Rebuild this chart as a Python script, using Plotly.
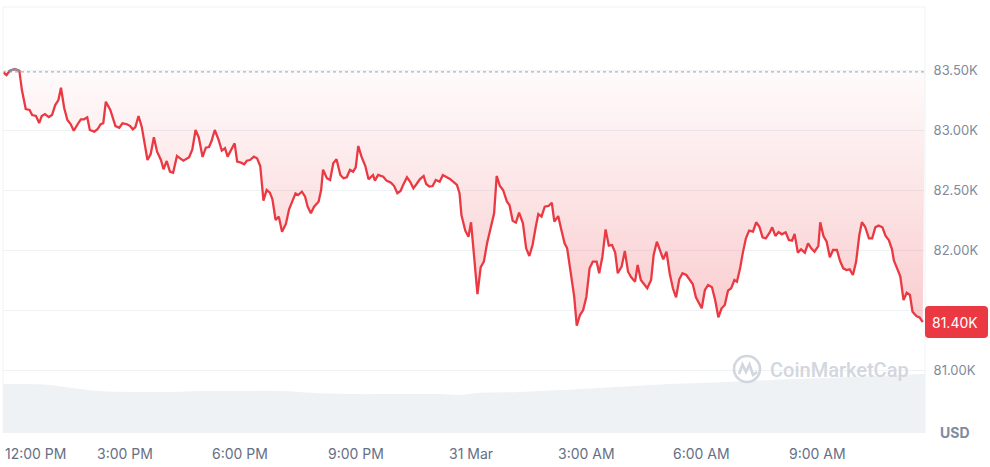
import pandas as pd
import plotly.graph_objects as go

# ---------------- data ----------------
START = pd.Timestamp("2025-03-30 12:00")

minutes = [-10, -5, 0, 8, 15, 19, 25, 31, 35, 41, 46, 50, 55, 61, 66, 71, 76, 80, 85, 90,
           95, 100, 106, 111, 116, 121, 125, 132, 137, 142, 146, 150, 157, 165, 171, 176, 183, 188, 192, 196,
           201, 206, 215, 220, 225, 230, 236, 240, 245, 250, 255, 261, 266, 271,
           280, 285, 290, 295, 301, 306, 311, 315, 320, 326, 331, 336, 340, 345, 351, 355, 361, 366, 370, 375,
           381, 386, 391, 396, 401, 406, 410, 415, 420, 425, 431, 436, 441, 446, 450, 456, 461, 465, 470, 475,
           482, 486, 489, 495, 500, 505, 510, 516, 521, 526, 531, 536, 540, 544, 549, 555, 560,
           567, 570, 575, 583, 588, 595, 600, 605, 610, 614, 620, 625, 630, 635, 640, 646, 650, 655, 660, 665,
           671, 676, 681, 687, 692, 698, 702, 705, 711, 716, 720, 725, 730, 735, 740, 745, 751, 756, 760, 765,
           770, 776, 780, 785, 790, 795, 801, 806, 811, 816, 821, 825, 830, 835, 841, 846, 850,
           856, 861, 866, 870, 876, 881, 885, 890, 895, 900, 905, 910, 916, 920, 925, 930, 935, 940, 945, 949,
           955, 960, 965, 970, 976, 980, 985, 990, 995, 1001, 1005, 1010, 1015, 1020, 1025, 1030, 1035, 1040, 1045, 1050,
           1056, 1061, 1066, 1071, 1076, 1080, 1085, 1090, 1096, 1101, 1106, 1111, 1116, 1121, 1126, 1131, 1135, 1140,
           1144, 1149, 1154, 1160, 1165, 1170, 1175, 1180, 1186, 1190, 1195, 1200, 1205, 1211, 1216, 1221, 1225, 1230, 1235, 1241,
           1246, 1251, 1256, 1262, 1265, 1270, 1275, 1280, 1285, 1291, 1296, 1301, 1306, 1311, 1316, 1321, 1326, 1330, 1335, 1341,
           1346, 1351, 1356, 1362, 1367, 1372, 1377, 1380, 1385, 1390, 1395, 1400, 1405, 1409, 1415, 1420, 1425]

prices = [83480, 83458, 83494, 83508, 83494, 83333, 83175, 83167, 83125, 83117,
          83058, 83117, 83133, 83108, 83125, 83208, 83250, 83352, 83183, 83083,
          83050, 82994, 83048, 83089, 83089, 83106, 83000, 82986, 83006, 83048,
          83056, 83236, 83167, 83033, 83019, 83056, 83048, 83033, 83006, 83023,
          83117, 83028, 82750, 82800, 82939, 82819, 82750, 82673, 82742, 82653,
          82644, 82783, 82764, 82744,
          82773, 82839, 83000, 82939, 82775, 82853, 82858, 82908, 83000, 82917,
          82828, 82848, 82778, 82828, 82889, 82736, 82728, 82714, 82744, 82750,
          82778, 82764, 82700, 82411, 82500, 82478, 82422, 82250, 82278, 82153,
          82217, 82339, 82403, 82472, 82458, 82486, 82444, 82361, 82306, 82361,
          82403, 82500, 82670, 82598, 82583, 82722, 82756, 82625, 82598, 82606,
          82667, 82653, 82689, 82867, 82778, 82700, 82589,
          82625, 82578, 82625, 82611, 82578, 82561, 82533, 82473, 82492, 82542,
          82606, 82569, 82514, 82550, 82589, 82617, 82550, 82528, 82533, 82583,
          82569, 82625, 82611, 82592, 82569, 82542, 82473, 82292, 82161, 82111,
          82231, 81917, 81633, 81856, 81903, 82056, 82194, 82306, 82617, 82533,
          82500, 82403, 82375, 82244, 82228, 82311, 82222, 82014, 81950, 82042,
          82194, 82300, 82278, 82361, 82367, 82394, 82236,
          82283, 82167, 82056, 82014, 81792, 81611, 81369, 81458, 81500, 81611,
          81847, 81903, 81903, 81806, 81944, 82172, 82036, 82042, 81978, 81806,
          81861, 81992, 81819, 81772, 81736, 81875, 81750, 81717, 81681, 81750,
          81958, 82069, 82000, 81922, 81986, 81806, 81681, 81606, 81756, 81806,
          81792, 81750, 81717, 81606, 81561, 81514, 81667, 81708, 81689, 81583,
          81439, 81514, 81542, 81661, 81681, 81750, 81736, 81850,
          81972, 82097, 82161, 82153, 82231, 82194, 82106, 82097, 82144, 82189,
          82117, 82150, 82131, 82148, 82083, 82078, 82133, 81978, 82006, 81978,
          82056, 82014, 81986, 82033, 82231, 82117, 82069, 81939, 82000, 82000,
          81908, 81847, 81833, 81839, 81792, 81903, 82125, 82231, 82194, 82097,
          82097, 82189, 82203, 82189, 82117, 82083, 82006, 81911, 81847, 81778,
          81583, 81644, 81625, 81486, 81450, 81439, 81400]

open_price = 83485

vol_minutes = [-11, 32, 63, 86, 110, 141, 188, 250, 297, 360, 422, 469, 531, 609, 672, 703,
               734, 796, 859, 921, 999, 1077, 1155, 1234, 1311, 1390, 1429]
volume_bn = [16.1, 16.1, 15.8, 15.1, 14.5, 13.8, 13.5, 13.5, 13.8, 13.8, 13.8, 13.2, 12.8, 12.8, 12.8, 12.5,
             13.2, 13.5, 14.1, 14.8, 15.8, 16.4, 17.1, 17.8, 18.4, 19.1, 19.4]

y_ticks = [81000, 81500, 82000, 82500, 83000, 83500]
x_tick_minutes = [0, 180, 360, 540, 720, 900, 1080, 1260]
x_tick_labels = ["12:00 PM", "3:00 PM", "6:00 PM", "9:00 PM", "31 Mar", "3:00 AM", "6:00 AM", "9:00 AM"]

# ---------------- styling ----------------
RED = "#EA3943"
GRAY_LINE = "#8791A5"
GRID = "#EFF2F5"
AXIS_TXT = "#808A9D"
XTXT = "#667085"
FONT = "Inter"

W, H = 990, 467
ML, MR, MT, MB = 3, 65, 7, 34
PW, PH = W - ML - MR, H - MT - MB
Y_RANGE = [80475, 84025]
PX_PER_USD = PH / (Y_RANGE[1] - Y_RANGE[0])


def ts(m):
    return START + pd.Timedelta(minutes=m)


def px2x(px):
    return (px - ML) / PW


def py2y(py):
    return (H - MB - py) / PH


t = [ts(m) for m in minutes]

# segments of the line that sit above the opening price (drawn gray)
gx, gy = [], []
for i in range(len(prices) - 1):
    m0, m1, p0, p1 = minutes[i], minutes[i + 1], prices[i], prices[i + 1]
    a0, a1 = p0 >= open_price, p1 >= open_price
    if not a0 and not a1:
        continue
    if a0 and a1:
        seg = [(m0, p0), (m1, p1)]
    else:
        mc = m0 + (open_price - p0) * (m1 - m0) / (p1 - p0)
        seg = [(m0, p0), (mc, open_price)] if a0 else [(mc, open_price), (m1, p1)]
    gx += [ts(s[0]) for s in seg] + [None]
    gy += [s[1] for s in seg] + [None]

x_lo, x_hi = ts(-10.5), ts(1428.5)

fig = go.Figure()

# volume area (bottom)
fig.add_trace(go.Scatter(
    x=[ts(m) for m in vol_minutes], y=volume_bn, yaxis="y2", mode="lines",
    line=dict(width=0, color="#EFF2F5", shape="spline"), fill="tozeroy", fillcolor="#EFF2F5",
    hoverinfo="skip"))

# opening price reference (dotted)
fig.add_trace(go.Scatter(
    x=[x_lo, x_hi], y=[open_price, open_price], mode="lines",
    line=dict(color="#A8B1C2", width=1.2, dash="dot"), hoverinfo="skip"))

# price line with gradient fill to the reference
fig.add_trace(go.Scatter(
    x=t, y=prices, mode="lines", line=dict(color=RED, width=2.3),
    fill="tonexty",
    fillgradient=dict(type="vertical", start=min(prices), stop=open_price,
                      colorscale=[[0, "rgba(234,57,67,0.26)"], [1, "rgba(234,57,67,0.02)"]]),
    hoverinfo="skip"))

fig.add_trace(go.Scatter(x=gx, y=gy, mode="lines", line=dict(color=GRAY_LINE, width=2.3),
                         connectgaps=False, hoverinfo="skip"))

last = prices[-1]

# tick labels hidden behind the last-price badge are left blank
tick_text = [("" if abs(v - last) * PX_PER_USD < 18 else f"{v/1000:.2f}K") for v in y_ticks]

annotations = []
for m, lab in zip(x_tick_minutes, x_tick_labels):
    if ts(m) - pd.Timedelta(minutes=40) < x_lo:
        annotations.append(dict(x=0, xref="paper", xanchor="left", y=py2y(453), yref="paper",
                                yanchor="middle", text=lab, showarrow=False,
                                font=dict(family=FONT, size=14, color=XTXT)))
    else:
        annotations.append(dict(x=ts(m), xref="x", xanchor="center", y=py2y(453), yref="paper",
                                yanchor="middle", text=lab, showarrow=False,
                                font=dict(family=FONT, size=14, color=XTXT)))

annotations.append(dict(x=px2x(955), xref="paper", y=py2y(432), yref="paper", text="<b>USD</b>",
                        showarrow=False, xanchor="center", yanchor="middle",
                        font=dict(family=FONT, size=14, color=AXIS_TXT)))

annotations.append(dict(x=px2x(955), xref="paper", y=last, yref="y", text=f"{last/1000:.2f}K",
                        showarrow=False, xanchor="center", yanchor="middle",
                        font=dict(family=FONT, size=14, color="white")))

annotations.append(dict(x=px2x(768), xref="paper", y=py2y(370), yref="paper", text="CoinMarketCap",
                        showarrow=False, xanchor="left", yanchor="middle",
                        font=dict(family="Roboto", size=20, color="#D2D6DE", weight=500)))

shapes = [
    dict(type="line", xref="paper", yref="paper", x0=0, x1=1, y0=1, y1=1, line=dict(color=GRID, width=1)),
    dict(type="line", xref="paper", yref="paper", x0=1, x1=1, y0=0, y1=1, line=dict(color=GRID, width=1)),
    dict(type="line", xref="paper", yref="paper", x0=0, x1=0, y0=0, y1=1, line=dict(color=GRID, width=1)),
    # badge for last price
    dict(type="path", xref="paper", xsizemode="pixel", xanchor=1, yref="y", ysizemode="pixel",
         yanchor=last, layer="above",
         path="M 4,-16 L 59,-16 Q 63,-16 63,-12 L 63,12 Q 63,16 59,16 L 4,16 Q 0,16 0,12 "
              "L 0,-12 Q 0,-16 4,-16 Z",
         fillcolor=RED, line=dict(width=0)),
    # watermark logo
    dict(type="circle", xref="paper", yref="paper", x0=px2x(734), x1=px2x(760), y0=py2y(382), y1=py2y(356),
         line=dict(color="#D2D6DE", width=2.6)),
    dict(type="path", xref="paper", yref="paper",
         path=f"M {px2x(739)},{py2y(374)} L {px2x(742.5)},{py2y(364.5)} L {px2x(746)},{py2y(372)} "
              f"L {px2x(749.5)},{py2y(364.5)} L {px2x(753)},{py2y(375)} L {px2x(757)},{py2y(372)}",
         line=dict(color="#D2D6DE", width=2.6)),
]

fig.update_layout(
    width=W, height=H, margin=dict(l=ML, r=MR, t=MT, b=MB),
    paper_bgcolor="white", plot_bgcolor="white", showlegend=False,
    xaxis=dict(type="date", range=[x_lo, x_hi], showgrid=False, showticklabels=False,
               zeroline=False, showline=False, ticks=""),
    yaxis=dict(side="right", range=Y_RANGE, tickvals=y_ticks, ticktext=tick_text,
               showgrid=True, gridcolor=GRID, gridwidth=1, zeroline=False, showline=False,
               ticks="outside", ticklen=5, tickcolor="rgba(0,0,0,0)",
               tickfont=dict(family=FONT, size=13, color=AXIS_TXT)),
    yaxis2=dict(overlaying="y", range=[0, 140], visible=False),
    annotations=annotations, shapes=shapes,
)

fig.write_html("out.html", config={"displayModeBar": False},
               post_script="document.body.style.margin='0';")
